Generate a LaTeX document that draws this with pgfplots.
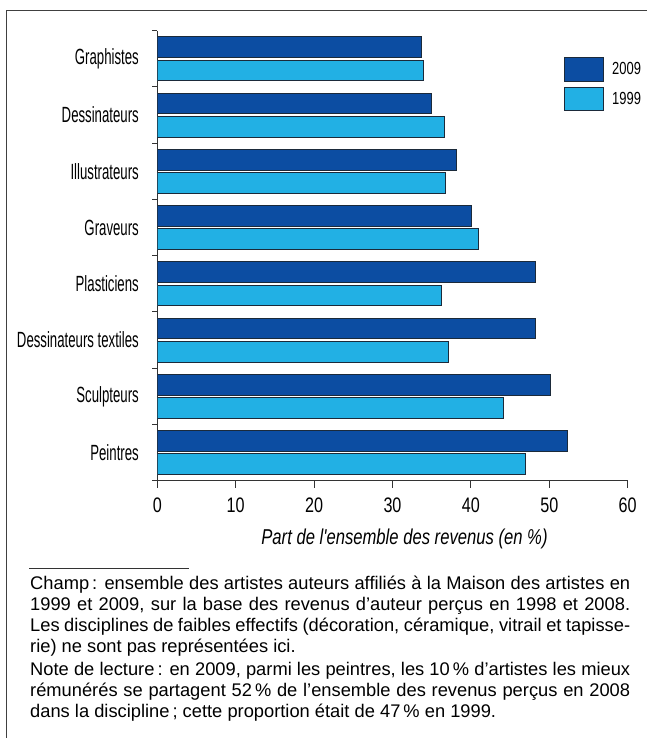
\documentclass[border=0pt]{standalone}
\usepackage{fontspec}
\setmainfont{Liberation Sans}
\newfontfamily\condf[FakeStretch=0.74]{Liberation Sans}
\newfontfamily\condd[FakeStretch=0.77]{Liberation Sans}
\newfontfamily\condc[FakeStretch=0.60]{Liberation Sans}
\newfontfamily\condi[FakeStretch=0.774]{Liberation Sans}
\usepackage{pgfplots}
\usepackage{pgfplotstable}
\pgfplotsset{compat=1.18}
\definecolor{darkb}{HTML}{0C4DA2}
\definecolor{lightb}{HTML}{22B0E4}
\definecolor{edge}{HTML}{1B2A3A}

% y: 1 = Peintres ... 8 = Graphistes
\pgfplotstableread{
y v2009 v1999
8 33.7 33.9
7 35.0 36.6
6 38.2 36.7
5 40.1 41.0
4 48.2 36.2
3 48.2 37.2
2 50.1 44.2
1 52.3 46.9
}\data

\begin{document}
\begin{tikzpicture}
\useasboundingbox (0bp,0bp) rectangle (647bp,-738bp);
\draw[line width=1bp, black!75] (6.5bp,-738bp) -- (6.5bp,-10bp) -- (647bp,-10bp);
\begin{axis}[
  at={(157.3bp,-480.7bp)}, anchor=south west,
  scale only axis, width=470.4bp, height=450bp,
  xmin=0, xmax=60, ymin=0.5, ymax=8.5,
  axis x line*=bottom, axis y line*=left,
  axis line style={line width=1bp, black!80, -},
  xtick={0,10,...,60},
  ytick={1,...,8},
  yticklabels={Peintres,Sculpteurs,Dessinateurs textiles,Plasticiens,Graveurs,Illustrateurs,Dessinateurs,Graphistes},
  minor ytick={0.5,1.5,...,8.5},
  tick align=outside,
  major tick length=7bp,
  minor tick length=5bp,
  major x tick style={black!80, line width=1bp},
  major y tick style={draw=none},
  minor y tick style={black!80, line width=1bp},
  /pgf/number format/assume math mode=true,
  xticklabel style={font=\condd\fontsize{21bp}{25bp}\selectfont, yshift=-7bp},
  yticklabel style={font=\condc\fontsize{22bp}{26bp}\selectfont, xshift=-8bp},
  xlabel={Part de l'ensemble des revenus (en \%)},
  xlabel style={font=\condi\itshape\fontsize{21.5bp}{25bp}\selectfont, xshift=12bp, yshift=-9bp},
  xbar, bar width=0.366,
  legend style={at={(0.8652,0.9409)}, anchor=north west, draw=none, fill=none,
    inner sep=0pt, outer sep=0pt, row sep=5bp,
    font=\condf\fontsize{17.5bp}{21bp}\selectfont,
    /tikz/every odd column/.append style={column sep=6bp}},
  legend cell align=left,
  legend image code/.code={\draw[#1, line width=0.9bp] (0bp,-11.7bp) rectangle (39bp,11.7bp);},
]
\addplot[fill=darkb, draw=edge, line width=0.9bp, bar shift=0.207] table[x=v2009, y=y]{\data};
\addplot[fill=lightb, draw=edge, line width=0.9bp, bar shift=-0.207] table[x=v1999, y=y]{\data};
\legend{2009,1999}
\end{axis}
\draw[line width=1bp, black!80] (29.3bp,-568bp) -- (189bp,-568bp);
\node[anchor=north west, inner sep=0pt, text width=600bp, align=justify,
  font=\fontsize{18.3bp}{21bp}\selectfont] at (30bp,-576bp) {%
Champ\,: ensemble des artistes auteurs affiliés à la Maison des artistes en\linebreak
1999 et 2009, sur la base des revenus d’auteur perçus en 1998 et 2008.\linebreak
Les disciplines de faibles effectifs (décoration, céramique, vitrail et tapisse-\linebreak
rie) ne sont pas représentées ici.\par\vspace{2bp}
Note de lecture\,: en 2009, parmi les peintres, les 10\,\% d’artistes les mieux\linebreak
rémunérés se partagent 52\,\% de l’ensemble des revenus perçus en 2008\linebreak
dans la discipline\,; cette proportion était de 47\,\% en 1999.};
\end{tikzpicture}
\end{document}
